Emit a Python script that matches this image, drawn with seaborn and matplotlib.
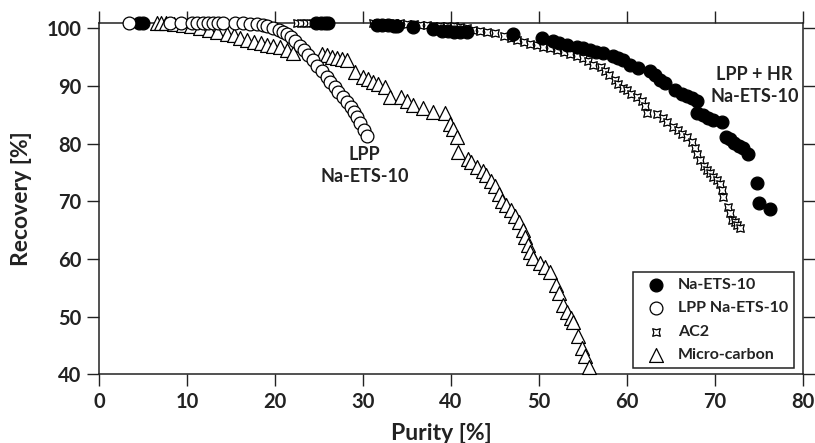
import matplotlib
matplotlib.use("Agg")
import matplotlib.pyplot as plt
import seaborn as sns
import pandas as pd

# ---------------- data ----------------
na_x = [4.6, 5.0, 24.7, 25.2, 25.7, 26.0, 31.6, 32.2, 32.8, 33.5, 33.9, 35.7, 38.0, 39.0, 39.7, 40.3,
        41.0, 41.8, 47.0, 50.3, 51.6, 52.3, 53.2, 54.3, 55.0, 55.8, 56.5, 57.3, 58.4, 59.0, 59.5,
        60.3, 61.3, 62.6, 63.2, 63.8, 64.3, 65.5, 66.2, 66.8, 67.4, 68.0, 68.0, 68.6, 69.2, 69.8,
        70.8, 71.3, 71.7, 72.2, 72.7, 73.2, 73.8, 74.8, 75.0, 76.2]
na_y = [101.0, 101.0, 101.0, 101.0, 101.0, 101.0, 100.6, 100.6, 100.6, 100.5, 100.5, 100.3, 99.9, 99.6, 99.5, 99.4,
        99.4, 99.3, 99.1, 98.3, 97.9, 97.5, 97.2, 96.8, 96.6, 96.3, 96.0, 95.7, 95.2, 94.9, 94.5,
        93.6, 93.1, 92.7, 91.9, 91.0, 90.5, 89.3, 88.6, 88.3, 88.0, 87.5, 85.3, 84.9, 84.5, 84.1,
        83.7, 81.2, 80.8, 80.2, 79.6, 79.2, 78.3, 73.2, 69.7, 68.6]

lpp_x = [3.4, 8.1, 9.3, 10.6, 11.1, 11.8, 12.4, 13.0, 13.5, 14.1, 15.5, 16.4, 17.2, 18.0, 18.6, 19.1,
         19.8, 20.4, 20.9, 21.4, 21.8, 22.3, 22.8, 23.3, 23.8, 24.3, 24.8, 25.3, 25.9, 26.3, 26.8,
         27.2, 27.7, 28.2, 28.6, 29.0, 29.3, 29.7, 30.1, 30.5]
lpp_y = [101.0, 101.0, 101.0, 101.0, 101.0, 101.0, 101.0, 101.0, 101.0, 101.0, 101.0, 100.9, 100.8, 100.7, 100.6, 100.5,
         100.1, 99.8, 99.4, 99.0, 98.5, 97.8, 97.0, 96.2, 95.4, 94.5, 93.5, 92.6, 91.5, 90.7, 89.8,
         89.0, 88.1, 87.3, 86.4, 85.5, 84.6, 83.6, 82.4, 81.3]

ac2_x = [22.5, 23.0, 23.5, 24.0, 31.1, 31.7, 32.3, 32.9, 33.5, 34.2, 35.0, 35.8, 36.5, 37.3, 38.0, 38.8,
         39.5, 40.3, 41.0, 41.8, 42.5, 43.3, 44.1, 45.0, 46.0, 46.8, 47.5, 48.3, 49.0, 49.8, 50.5,
         51.3, 52.0, 52.8, 53.5, 54.3, 55.0, 55.6, 56.1, 57.0, 57.5, 58.0, 58.6, 59.0, 59.5, 60.0,
         60.5, 61.1, 61.7, 62.0, 62.3, 63.4, 64.1, 64.6, 65.2, 65.8, 66.3, 66.8, 67.4, 67.7, 67.9,
         68.3, 68.7, 69.1, 69.4, 69.8, 70.2, 70.6, 70.8, 70.9, 71.5, 71.7, 71.9, 72.3, 72.5, 72.8]
ac2_y = [101.0, 101.0, 101.0, 101.0, 101.0, 101.0, 101.0, 101.0, 101.0, 101.0, 100.8, 100.7, 100.6, 100.6, 100.5, 100.4,
         100.4, 100.4, 100.3, 100.1, 99.8, 99.6, 99.4, 99.2, 98.7, 98.3, 98.0, 97.6, 97.3, 97.1, 96.8,
         96.6, 96.2, 95.9, 95.6, 95.3, 94.8, 94.3, 93.7, 93.3, 92.6, 91.9, 91.0, 90.3, 89.6, 89.3,
         88.7, 88.1, 87.5, 86.5, 85.4, 85.1, 84.4, 83.7, 82.9, 82.3, 81.7, 81.1, 80.3, 79.3, 78.3,
         77.1, 76.2, 75.4, 74.9, 74.3, 73.7, 73.1, 72.0, 70.8, 69.1, 68.0, 66.8, 66.5, 65.9, 65.4]

mc_x = [6.6, 7.1, 7.6, 8.5, 9.5, 10.5, 11.5, 12.5, 13.4, 14.5, 15.3, 16.0, 16.8, 17.6, 18.4, 19.1,
        19.8, 20.6, 21.4, 22.0, 25.3, 25.9, 26.5, 27.1, 27.6, 28.2, 29.1, 30.0, 30.6, 31.1, 31.7,
        32.5, 33.1, 34.3, 35.0, 35.7, 36.8, 38.0, 39.3, 39.9, 40.2, 40.7, 40.8, 41.9, 42.3, 43.0,
        43.6, 44.0, 44.5, 45.0, 45.4, 45.8, 46.3, 46.8, 47.3, 47.7, 48.2, 48.4, 48.7, 49.0, 49.3,
        50.1, 50.7, 51.3, 51.9, 52.3, 52.7, 53.2, 53.6, 53.9, 54.4, 54.9, 55.2, 55.7]
mc_y = [101.0, 101.0, 101.0, 100.8, 100.6, 100.4, 100.1, 99.8, 99.4, 99.1, 98.8, 98.4, 98.0, 97.7, 97.4, 97.1,
        97.0, 96.7, 96.2, 95.7, 95.6, 95.4, 95.1, 94.9, 94.7, 94.5, 92.4, 91.5, 91.2, 90.7, 90.4,
        89.8, 88.1, 88.1, 87.5, 86.7, 86.2, 85.5, 85.3, 83.5, 82.5, 81.2, 78.6, 77.4, 76.8, 76.0,
        75.2, 74.5, 73.5, 72.6, 71.3, 70.0, 69.3, 68.5, 67.5, 66.5, 65.0, 63.8, 62.4, 61.2, 60.2,
        59.3, 58.6, 57.7, 55.5, 54.1, 52.0, 50.8, 49.8, 49.1, 46.6, 44.6, 43.2, 41.3]

labels = ["Na-ETS-10", "LPP Na-ETS-10", "AC2", "Micro-carbon"]
x_ticks = [0, 10, 20, 30, 40, 50, 60, 70, 80]
y_ticks = [40, 50, 60, 70, 80, 90, 100]

# ---------------- plot ----------------
sns.set_theme(style="white")
plt.rcParams["font.family"] = ["Lato", "DejaVu Sans"]
plt.rcParams["font.weight"] = "bold"

fig = plt.figure(figsize=(8.15, 4.43), dpi=100)
ax = fig.add_axes([99 / 815, (443 - 374.3) / 443, 704 / 815, (374.3 - 22.7) / 443])

common = dict(edgecolor="black", linewidth=0.9, clip_on=False, ax=ax)
sns.scatterplot(x=mc_x, y=mc_y, marker="^", s=100, color="white", label=labels[3], zorder=3, **common)
sns.scatterplot(x=ac2_x, y=ac2_y, marker=(4, 1, 45), s=60, color="white", label=labels[2], zorder=4, **common)
sns.scatterplot(x=na_x, y=na_y, marker="o", s=85, color="black", label=labels[0], zorder=5, **common)
sns.scatterplot(x=lpp_x, y=lpp_y, marker="o", s=85, color="white", label=labels[1], zorder=6, **common)

ax.set_xlim(0, 80)
ax.set_ylim(40, 101)
ax.set_xticks(x_ticks)
ax.set_yticks(y_ticks)
ax.tick_params(axis="both", which="both", direction="out", length=8.6, width=1.0,
               color="#222222", labelsize=14.5, top=True, right=True, bottom=True, left=True,
               labeltop=False, labelright=False, pad=4)
for lab in ax.get_xticklabels() + ax.get_yticklabels():
    lab.set_fontweight("bold")
    lab.set_color("#222222")
for sp in ax.spines.values():
    sp.set_visible(True)
    sp.set_color("#222222")
    sp.set_linewidth(1.1)

ax.set_xlabel("Purity [%]", fontsize=16.5, fontweight="bold", color="#222222")
ax.set_ylabel("Recovery [%]", fontsize=16.5, fontweight="bold", color="#222222")
ax.xaxis.set_label_coords(0.486, -0.138)
ax.yaxis.set_label_coords(-0.095, 0.5)

ax.text(74.5, 90.1, "LPP + HR\nNa-ETS-10", ha="center", va="center", fontsize=13,
        fontweight="bold", color="#222222", linespacing=1.35)
ax.text(30.2, 76.3, "LPP\nNa-ETS-10", ha="center", va="center", fontsize=13,
        fontweight="bold", color="#222222", linespacing=1.35)

handles, hl = ax.get_legend_handles_labels()
order = [hl.index(l) for l in labels]
leg = ax.legend([handles[i] for i in order], [hl[i] for i in order],
                loc="lower right", bbox_to_anchor=(0.987, 0.018), borderaxespad=0,
                frameon=True, fancybox=False, edgecolor="#222222", framealpha=1,
                prop={"weight": "bold", "size": 11.5}, labelspacing=0.58,
                handletextpad=0.3, borderpad=0.35, handlelength=2.2)
leg.get_frame().set_linewidth(1.1)
for t in leg.get_texts():
    t.set_color("#222222")

fig.savefig("out.png", dpi=100)
